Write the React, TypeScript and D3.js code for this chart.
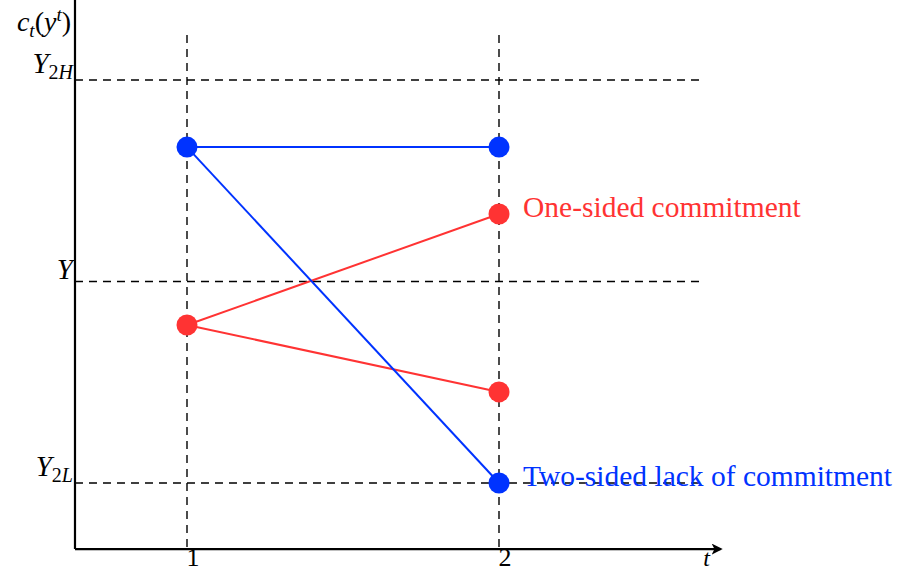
import React from "react";
import * as d3 from "d3";

const periods = [1, 2];
const levelLabels = ["Y_{2L}", "Y", "Y_{2H}"];
const levelValues = [0, 1, 2];
const blueFrom = [1, 1.667];
const blueTo = [
  [2, 1.667],
  [2, 0.0],
];
const redFrom = [1, 0.784];
const redTo = [
  [2, 1.335],
  [2, 0.452],
];
const seriesLabels = ["One-sided commitment", "Two-sided lack of commitment"];

const W = 899;
const H = 573;
const RED = "#ff3333";
const BLUE = "#0033ff";
const FONT = "'Liberation Serif', 'DejaVu Serif', serif";

export default function App() {
  const x = d3.scaleLinear().domain([1, 2]).range([187, 499]);
  const y = d3.scaleLinear().domain([0, 2]).range([483, 80]);
  const xAxisStart = 0.641;
  const xAxisEnd = 2.71;
  const xDashEnd = 2.645;
  const yBottom = -0.328;
  const yTop = 2.223;
  const yArrowTop = 2.62;
  const line = d3.line<number[]>().x((d) => x(d[0])).y((d) => y(d[1]));

  const ox = x(xAxisStart);
  const oy = y(yBottom);

  const renderLabel = (lab: string, v: number) => {
    const m = lab.match(/^(\w)(?:_\{(\w+)\})?$/);
    const main = m ? m[1] : lab;
    const sub = m && m[2] ? m[2] : null;
    return (
      <text key={lab} x={ox - 2} y={y(v) - (sub ? 7 : 3)} textAnchor="end" fontFamily={FONT} fontSize={29}>
        <tspan fontStyle="italic">{main}</tspan>
        {sub && (
          <tspan fontSize={20} dy={6}>
            {sub.split("").map((c, i) => (
              <tspan key={i} fontStyle={/[0-9]/.test(c) ? "normal" : "italic"}>{c}</tspan>
            ))}
          </tspan>
        )}
      </text>
    );
  };

  return (
    <svg width={W} height={H} style={{ position: "absolute", left: 0, top: 0, background: "#fff" }}>
      <defs>
        <marker id="arr" viewBox="0 0 10 10" refX="8" refY="5" markerWidth="5" markerHeight="5" orient="auto-start-reverse" markerUnits="strokeWidth">
          <path d="M0,0 L10,5 L0,10 L2.5,5 Z" fill="#000" />
        </marker>
      </defs>
      {levelValues.map((v) => (
        <line key={"h" + v} x1={ox} x2={x(xDashEnd)} y1={y(v)} y2={y(v)} stroke="#000" strokeWidth={1.4} strokeDasharray="8,6" />
      ))}
      {periods.map((p) => (
        <line key={"v" + p} x1={x(p)} x2={x(p)} y1={y(yTop)} y2={oy} stroke="#000" strokeWidth={1.4} strokeDasharray="8,6" />
      ))}
      <line x1={ox} y1={oy} x2={x(xAxisEnd)} y2={oy} stroke="#000" strokeWidth={2.2} markerEnd="url(#arr)" />
      <line x1={ox} y1={oy} x2={ox} y2={y(yArrowTop)} stroke="#000" strokeWidth={2.2} markerEnd="url(#arr)" />
      {redTo.map((d, i) => (
        <path key={"rl" + i} d={line([redFrom, d]) || ""} stroke={RED} strokeWidth={2} fill="none" />
      ))}
      {blueTo.map((d, i) => (
        <path key={"bl" + i} d={line([blueFrom, d]) || ""} stroke={BLUE} strokeWidth={2} fill="none" />
      ))}
      {[redFrom, ...redTo].map((d, i) => (
        <circle key={"rp" + i} cx={x(d[0])} cy={y(d[1])} r={10.5} fill={RED} />
      ))}
      {[blueFrom, ...blueTo].map((d, i) => (
        <circle key={"bp" + i} cx={x(d[0])} cy={y(d[1])} r={10.5} fill={BLUE} />
      ))}
      <text x={x(2) + 24} y={y(redTo[0][1]) + 3} fontFamily={FONT} fontSize={29.5} fill={RED}>{seriesLabels[0]}</text>
      <text x={x(2) + 24} y={y(blueTo[1][1]) + 3} fontFamily={FONT} fontSize={29.5} fill={BLUE}>{seriesLabels[1]}</text>
      {levelValues.map((v, i) => renderLabel(levelLabels[i], v))}
      {periods.map((p) => (
        <text key={"t" + p} x={x(p) + 6} y={oy + 17} textAnchor="middle" fontFamily={FONT} fontSize={26}>{p}</text>
      ))}
      <text x={x(xAxisEnd) - 14} y={oy + 17} textAnchor="middle" fontFamily={FONT} fontSize={24} fontStyle="italic">t</text>
      <text x={71} y={31} textAnchor="end" fontFamily={FONT} fontSize={28}>
        <tspan fontStyle="italic">c</tspan>
        <tspan fontSize={19} fontStyle="italic" dy={6}>t</tspan>
        <tspan dy={-6}>(</tspan>
        <tspan fontStyle="italic">y</tspan>
        <tspan fontSize={19} fontStyle="italic" dy={-10}>t</tspan>
        <tspan dy={10}>)</tspan>
      </text>
    </svg>
  );
}
